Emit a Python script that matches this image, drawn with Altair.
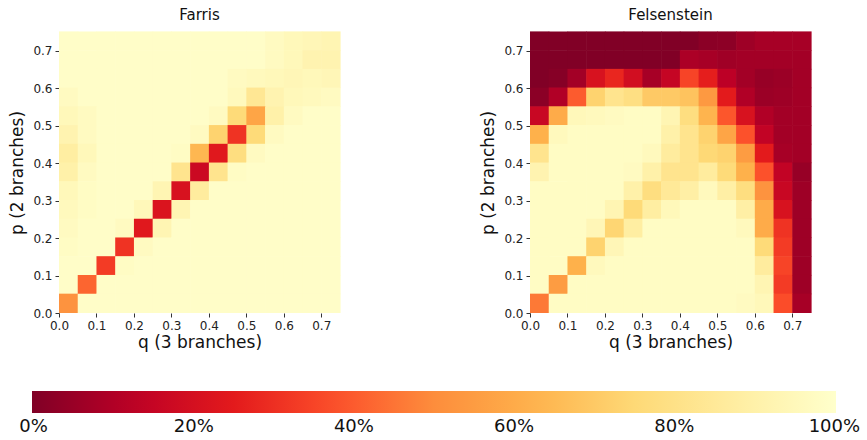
import altair as alt
import pandas as pd

# Grid of edge lengths: 15 x 15 cells of width 0.05 covering [0, 0.75)
cell = 0.05
q_ticks = [0.0, 0.1, 0.2, 0.3, 0.4, 0.5, 0.6, 0.7]
p_ticks = [0.0, 0.1, 0.2, 0.3, 0.4, 0.5, 0.6, 0.7]
bar_ticks = [0.0, 0.2, 0.4, 0.6, 0.8, 1.0]

# Reversed YlOrRd colour stops (0 = dark red, 1 = pale yellow); the outer stops sit a hair
# beyond 0 and 1 so the end labels of the colour bar are centred like the others
ylorrd_stops = [-0.002, 0.125, 0.25, 0.375, 0.5, 0.625, 0.75, 0.875, 1.002]
ylorrd_colors = ["#800026", "#bd0026", "#e31a1c", "#fc4e2a", "#fd8d3c",
                 "#feb24c", "#fed976", "#ffeda0", "#ffffcc"]

# Fraction of correct reconstructions; rows run from p = 0.70 (top) down to p = 0.00
farris_rows = [
    [0.99, 0.99, 0.99, 0.99, 0.99, 0.99, 0.99, 0.99, 0.99, 0.99, 0.99, 0.97, 0.95, 0.94, 0.93],
    [0.99, 0.99, 0.99, 0.99, 0.99, 0.99, 0.99, 0.99, 0.99, 0.99, 0.99, 0.97, 0.95, 0.92, 0.92],
    [0.99, 0.99, 0.99, 0.99, 0.99, 0.99, 0.99, 0.99, 0.99, 0.97, 0.96, 0.95, 0.94, 0.95, 0.94],
    [0.97, 0.99, 0.99, 0.99, 0.99, 0.99, 0.99, 0.99, 0.99, 0.96, 0.84, 0.92, 0.95, 0.96, 0.97],
    [0.95, 0.97, 0.99, 0.99, 0.99, 0.99, 0.99, 0.99, 0.97, 0.76, 0.58, 0.90, 0.97, 0.99, 0.99],
    [0.92, 0.97, 0.99, 0.99, 0.99, 0.99, 0.99, 0.97, 0.73, 0.31, 0.76, 0.97, 0.99, 0.99, 0.99],
    [0.88, 0.95, 0.99, 0.99, 0.99, 0.99, 0.98, 0.64, 0.24, 0.78, 0.97, 0.99, 0.99, 0.99, 0.99],
    [0.90, 0.97, 0.99, 0.99, 0.99, 0.99, 0.82, 0.17, 0.82, 0.98, 0.99, 0.99, 0.99, 0.99, 0.99],
    [0.95, 0.98, 0.99, 0.99, 0.99, 0.93, 0.21, 0.87, 0.99, 0.99, 0.99, 0.99, 0.99, 0.99, 0.99],
    [0.96, 0.98, 0.99, 0.99, 0.95, 0.22, 0.93, 0.99, 0.99, 0.99, 0.99, 0.99, 0.99, 0.99, 0.99],
    [0.97, 0.99, 0.99, 0.97, 0.24, 0.93, 0.99, 0.99, 0.99, 0.99, 0.99, 0.99, 0.99, 0.99, 0.99],
    [0.98, 0.99, 0.99, 0.31, 0.97, 0.99, 0.99, 0.99, 0.99, 0.99, 0.99, 0.99, 0.99, 0.99, 0.99],
    [0.99, 0.99, 0.33, 0.98, 0.99, 0.99, 0.99, 0.99, 0.99, 0.99, 0.99, 0.99, 0.99, 0.99, 0.99],
    [0.99, 0.42, 0.99, 0.99, 0.99, 0.99, 0.99, 0.99, 0.99, 0.99, 0.99, 0.99, 0.99, 0.99, 0.99],
    [0.52, 0.99, 0.99, 0.99, 0.99, 0.99, 0.99, 0.99, 0.99, 0.99, 0.99, 0.99, 0.99, 0.99, 0.99],
]

felsenstein_rows = [
    [0.00, 0.00, 0.00, 0.00, 0.00, 0.00, 0.00, 0.00, 0.00, 0.02, 0.025, 0.06, 0.08, 0.08, 0.08],
    [0.00, 0.00, 0.00, 0.00, 0.00, 0.00, 0.00, 0.00, 0.09, 0.08, 0.065, 0.07, 0.07, 0.07, 0.07],
    [0.00, 0.01, 0.07, 0.21, 0.28, 0.19, 0.08, 0.15, 0.35, 0.26, 0.125, 0.07, 0.045, 0.055, 0.07],
    [0.02, 0.10, 0.40, 0.73, 0.82, 0.79, 0.70, 0.70, 0.68, 0.54, 0.25, 0.10, 0.055, 0.06, 0.07],
    [0.16, 0.60, 0.95, 0.96, 0.97, 0.98, 0.98, 0.93, 0.78, 0.63, 0.39, 0.21, 0.10, 0.07, 0.07],
    [0.62, 0.96, 0.98, 0.98, 0.98, 0.98, 0.98, 0.90, 0.82, 0.73, 0.58, 0.38, 0.14, 0.07, 0.07],
    [0.82, 0.98, 0.98, 0.98, 0.98, 0.98, 0.96, 0.87, 0.82, 0.75, 0.73, 0.55, 0.25, 0.08, 0.07],
    [0.92, 0.98, 0.98, 0.98, 0.98, 0.97, 0.90, 0.82, 0.82, 0.87, 0.76, 0.62, 0.38, 0.14, 0.045],
    [0.98, 0.98, 0.98, 0.98, 0.98, 0.90, 0.78, 0.85, 0.89, 0.96, 0.89, 0.78, 0.52, 0.16, 0.06],
    [0.98, 0.98, 0.98, 0.98, 0.93, 0.76, 0.88, 0.95, 0.98, 0.98, 0.98, 0.89, 0.60, 0.21, 0.06],
    [0.98, 0.98, 0.98, 0.94, 0.74, 0.88, 0.98, 0.98, 0.98, 0.98, 0.98, 0.96, 0.60, 0.31, 0.06],
    [0.98, 0.98, 0.98, 0.73, 0.94, 0.98, 0.98, 0.98, 0.98, 0.98, 0.98, 0.98, 0.76, 0.33, 0.06],
    [0.98, 0.98, 0.62, 0.96, 0.98, 0.98, 0.98, 0.98, 0.98, 0.98, 0.98, 0.98, 0.87, 0.35, 0.06],
    [0.98, 0.55, 0.98, 0.98, 0.98, 0.98, 0.98, 0.98, 0.98, 0.98, 0.98, 0.98, 0.93, 0.33, 0.06],
    [0.46, 0.98, 0.98, 0.98, 0.98, 0.98, 0.98, 0.98, 0.98, 0.98, 0.98, 0.97, 0.95, 0.37, 0.08],
]


def to_frame(rows):
    n = len(rows)
    records = []
    for i, row in enumerate(rows):
        p = round((n - 1 - i) * cell, 2)
        for j, v in enumerate(row):
            q = round(j * cell, 2)
            records.append({"q": q, "q_end": q + cell, "p": p, "p_end": p + cell, "value": v})
    return pd.DataFrame(records)


FONT = "DejaVu Sans"
color_scale = alt.Scale(domain=ylorrd_stops, range=ylorrd_colors, interpolate="rgb")


def heatmap(rows, title):
    axis_common = dict(
        format=".1f", domain=False, grid=False, tickSize=4, tickColor="#333",
        labelFontSize=12, labelColor="#222", labelFont=FONT, labelPadding=3,
        titleFontSize=17, titleFontWeight="normal", titleFont=FONT, titleColor="#111",
    )
    return (
        alt.Chart(to_frame(rows))
        # each cell reaches a fraction of a pixel into its neighbours so no seams show
        .mark_rect(x2Offset=0.6, y2Offset=-0.6)
        .encode(
            x=alt.X("q:Q", title="q (3 branches)",
                    scale=alt.Scale(domain=[0, 0.75], nice=False, zero=False),
                    axis=alt.Axis(values=q_ticks, titlePadding=3, labelFlush=False, **axis_common)),
            x2="q_end",
            y=alt.Y("p:Q", title="p (2 branches)",
                    scale=alt.Scale(domain=[0, 0.75], nice=False, zero=False),
                    axis=alt.Axis(values=p_ticks, titlePadding=6, labelFlush=False, **axis_common)),
            y2="p_end",
            color=alt.Color(
                "value:Q", scale=color_scale,
                legend=alt.Legend(
                    type="gradient", title=None, orient="none", direction="horizontal",
                    legendX=-27, legendY=359,
                    gradientLength=804, gradientThickness=22, gradientStrokeWidth=0,
                    values=bar_ticks, format=".0%", labelAlign="center",
                    labelFontSize=18, labelFont=FONT,
                    labelColor="#111", labelOffset=5, labelOverlap=False,
                ),
            ),
        )
        .properties(
            width=281, height=281,
            title=alt.TitleParams(title, fontSize=15, fontWeight="normal", font=FONT,
                                  color="#111", offset=8),
        )
    )


chart = (
    alt.hconcat(heatmap(farris_rows, "Farris"), heatmap(felsenstein_rows, "Felsenstein"), spacing=138)
    .properties(padding={"left": 8, "top": 8, "right": 5, "bottom": 5})
    .configure_view(stroke=None)
)

chart.save("out.html", embed_options={"renderer": "svg", "actions": False})
